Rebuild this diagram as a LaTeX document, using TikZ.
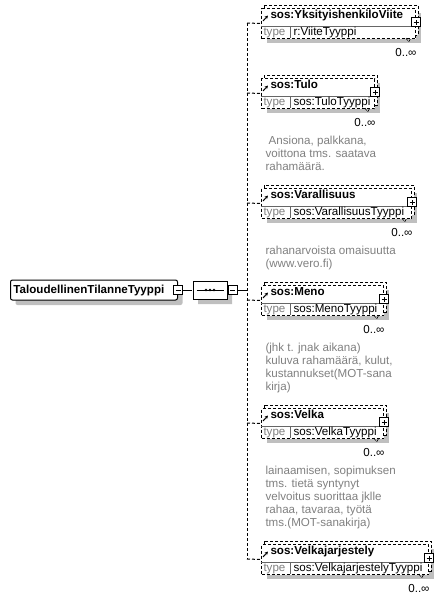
\documentclass[tikz,border=0pt]{standalone}
\usepackage{fontspec}
\setmainfont{Liberation Sans}
\usepackage{tikz}
\usetikzlibrary{arrows.meta,shapes.misc,shadows}

\begin{document}
\begin{tikzpicture}[x=0.75pt, y=-0.75pt, line width=0.75pt,
		every node/.style={inner sep=0pt, font=\fontsize{8.7}{9.75}\selectfont},
		dsh/.style={dash pattern=on 2.25pt off 1.5pt},
		shade/.style={fill=black!25},
		boxshadow/.style={drop shadow={shadow xshift=3.75pt, shadow yshift=-3.75pt, fill=black!25, opacity=1}},
		titletext/.style={anchor=base west, font=\bfseries\fontsize{8.7}{9.75}\selectfont},
		desc/.style={anchor=north west, align=left, text=black!50},
		ctrlminus/.style={draw, fill=white, minimum size=6.75pt,
			path picture={\draw ([xshift=1.5pt]path picture bounding box.west) -- ([xshift=-1.5pt]path picture bounding box.east);}},
		ctrlplus/.style={draw, fill=white, minimum size=6.75pt,
			path picture={\draw ([xshift=1.5pt]path picture bounding box.west) -- ([xshift=-1.5pt]path picture bounding box.east);
				\draw ([yshift=1.5pt]path picture bounding box.south) -- ([yshift=-1.5pt]path picture bounding box.north);}},
	]
	\useasboundingbox (0,0) rectangle (444,600);

	% root type and sequence
	\node[draw, fill=white, rounded corners=1.5pt, anchor=west, text width=120.75pt, inner xsep=2.25pt,
		minimum height=15pt, font=\bfseries\fontsize{8.7}{9.75}\selectfont, boxshadow] (root) at (10,290) {TaloudellinenTilanneTyyppi};
	\node[ctrlminus] (rminus) at (root.east) {};
	\node[draw, fill=white, chamfered rectangle, chamfered rectangle xsep=3pt, chamfered rectangle ysep=3pt,
		minimum width=25.5pt, minimum height=13.5pt, boxshadow] (seq) at (210,290) {};
	\draw ([xshift=3pt]seq.west) -- ([xshift=-3pt]seq.east);
	\foreach \d in {-4,0,4}
		\fill ([shift={(\d,0)}]seq.center) circle (1.4);
	\node[ctrlminus, anchor=west] (sminus) at (seq.east) {};
	\coordinate (bus) at (247,290);
	\draw (rminus) -- (seq);
	\draw (sminus) -- (bus);

	% child elements
	\foreach \t/\r/\nm/\ty [count=\i] in {5/418/YksityishenkiloViite/r:ViiteTyyppi, 75/377/Tulo/sos:TuloTyyppi,
		185/414/Varallisuus/sos:VarallisuusTyyppi, 282/386/Meno/sos:MenoTyyppi, 405/386/Velka/sos:VelkaTyyppi,
		541/431/Velkajarjestely/sos:VelkajarjestelyTyyppi}
	{
		\fill[shade] (267,\t+8) rectangle (\r+3,\t+38);
		\draw[dsh, fill=white] (264,\t) rectangle (\r,\t+30);
		\pgfmathsetmacro\w{(\r-264)*0.75}
		\node[draw, dsh, fill=white, anchor=north west, minimum width=\w pt, minimum height=22.5pt] (e\i) at (261,\t+3) {};
		\draw[black!60] (261,\t+21) -- (\r-3,\t+21);
		\draw[black!60] (290,\t+21) -- (290,\t+33);
		\node[anchor=base west, text=black!50] (tl\i) at (263,\t+30.5) {type};
		\node[anchor=base west] (tv\i) at (293,\t+30.5) {\ty};
		\node[titletext] (n\i) at (270,\t+13.5) {sos:\nm};
		\draw[-{Stealth[length=2.6pt, width=2.6pt]}] (263,\t+16) -- (268,\t+10.5);
		\node[ctrlplus] (p\i) at (\r-2,\t+17) {};
		\draw[dsh, line width=0.5pt] (\r-12,\t+33) -- (\r-9.5,\t+37) -- (\r-7,\t+33);
		\node[anchor=base east] (o\i) at (\r-1,\t+51) {0..∞};
		\coordinate (b\i) at (247,\t+18);
		\draw[dsh] (b\i) -- (e\i.west);
	}
	\draw[dsh] (b1) -- (b6);

	% annotations
	\node[desc] (d2) at (265,136) {\ Ansiona, palkkana,\\voittona tms. saatava\\rahamäärä.};
	\node[desc] (d3) at (265,246) {rahanarvoista omaisuutta\\(www.vero.fi)};
	\node[desc] (d4) at (265,343) {(jhk t. jnak aikana)\\kuluva rahamäärä, kulut,\\kustannukset(MOT-sana\\kirja)};
	\node[desc] (d5) at (265,466) {lainaamisen, sopimuksen\\tms. tietä syntynyt\\velvoitus suorittaa jklle\\rahaa, tavaraa, työtä\\tms.(MOT-sanakirja)};
\end{tikzpicture}
\end{document}
